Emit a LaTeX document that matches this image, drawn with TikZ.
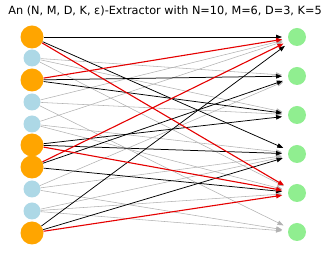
\documentclass[tikz,border=0pt]{standalone}
\usepackage{fontspec}
\newfontfamily\titlefont{DejaVu Sans}
\usetikzlibrary{arrows.meta}
\definecolor{srcorange}{HTML}{FFA500}
\definecolor{srcblue}{HTML}{ADD8E6}
\definecolor{outgreen}{HTML}{90EE90}
\tikzset{
  heavy/.style={circle, fill=srcorange, minimum size=23pt, inner sep=0pt},
  light/.style={circle, fill=srcblue, minimum size=17pt, inner sep=0pt},
  outnode/.style={circle, fill=outgreen, minimum size=18pt, inner sep=0pt, outer sep=6pt},
  link/.style={-{Triangle[length=6pt,width=4.5pt]}, #1},
  link/.default=black,
  glink/.style={link=black!30, line width=0.55pt},
  blink/.style={link=black, line width=0.75pt},
  rlink/.style={link=red!90!black, line width=1.1pt},
}

\begin{document}
\begin{tikzpicture}[x=1pt, y=-1pt]
  \useasboundingbox (0,0) rectangle (330,261);

  \node[font=\titlefont\fontsize{11.3}{13}\selectfont] (title) at (165,10.5)
    {An (N, M, D, K, ε)-Extractor with N=10, M=6, D=3, K=5};

  % sources
  \node[heavy] (l0) at (32,37) {};
  \node[light] (l1) at (32,58) {};
  \node[heavy] (l2) at (32,80) {};
  \node[light] (l3) at (32,102) {};
  \node[light] (l4) at (32,124) {};
  \node[heavy] (l5) at (32,145) {};
  \node[heavy] (l6) at (32,167) {};
  \node[light] (l7) at (32,189) {};
  \node[light] (l8) at (32,211) {};
  \node[heavy] (l9) at (32,233) {};

  % outputs
  \node[outnode] (r0) at (297,37) {};
  \node[outnode] (r1) at (297,76) {};
  \node[outnode] (r2) at (297,115) {};
  \node[outnode] (r3) at (297,154) {};
  \node[outnode] (r4) at (297,193) {};
  \node[outnode] (r5) at (297,232) {};

  % gray edges of the light sources
  \draw[glink] (l1) -- (r1); \draw[glink] (l1) -- (r2); \draw[glink] (l1) -- (r4);
  \draw[glink] (l3) -- (r0); \draw[glink] (l3) -- (r2); \draw[glink] (l3) -- (r5);
  \draw[glink] (l4) -- (r0); \draw[glink] (l4) -- (r3); \draw[glink] (l4) -- (r4);
  \draw[glink] (l7) -- (r1); \draw[glink] (l7) -- (r3); \draw[glink] (l7) -- (r5);
  \draw[glink] (l8) -- (r3); \draw[glink] (l8) -- (r4); \draw[glink] (l8) -- (r5);

  % black edges of the heavy sources
  \draw[blink] (l0) -- (r0); \draw[blink] (l0) -- (r3);
  \draw[blink] (l2) -- (r1); \draw[blink] (l2) -- (r2);
  \draw[blink] (l5) -- (r2); \draw[blink] (l5) -- (r3);
  \draw[blink] (l6) -- (r1); \draw[blink] (l6) -- (r4);
  \draw[blink] (l9) -- (r0); \draw[blink] (l9) -- (r3);

  % red edges
  \draw[rlink] (l0) -- (r4);
  \draw[rlink] (l2) -- (r0);
  \draw[rlink] (l5) -- (r4);
  \draw[rlink] (l6) -- (r0);
  \draw[rlink] (l9) -- (r4);
\end{tikzpicture}
\end{document}
